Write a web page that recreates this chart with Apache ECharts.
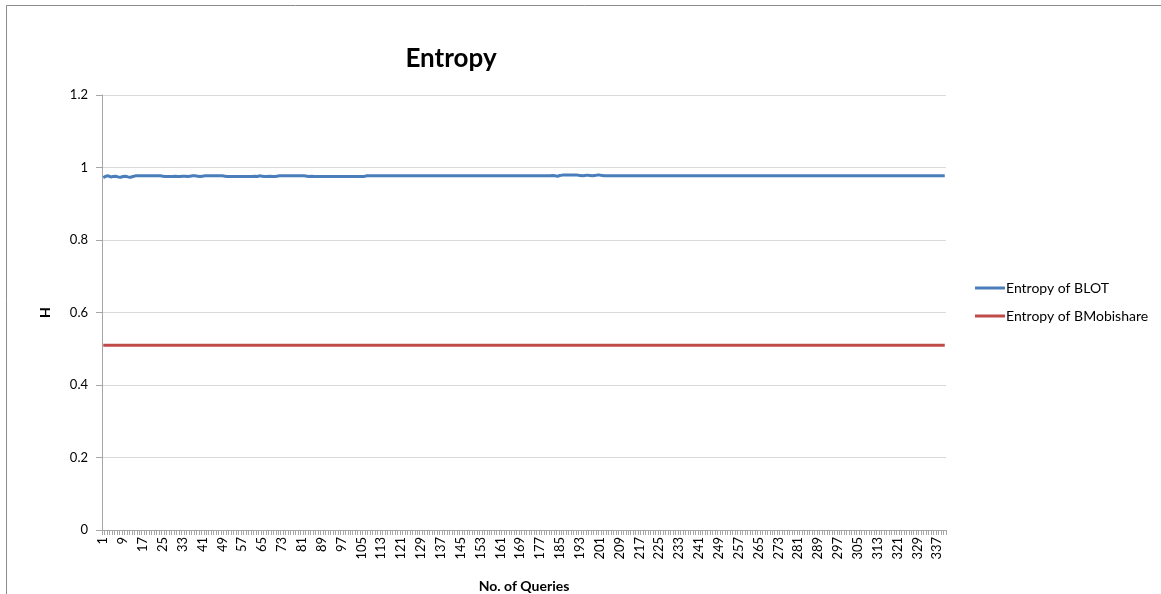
<!DOCTYPE html>
<html>
<head>
<meta charset="utf-8">
<script src="https://cdn.jsdelivr.net/npm/echarts@6/dist/echarts.min.js"></script>
<style>
html,body{margin:0;padding:0;background:#fff;}
#c{width:1161px;height:594px;}
</style>
</head>
<body>
<div id="c"></div>
<script>
var categories = [];
for (var i = 1; i <= 340; i++) categories.push(String(i));

var yTicks = [0, 0.2, 0.4, 0.6, 0.8, 1, 1.2];

var blot = [
0.972,0.976,0.977,0.974,0.975,0.976,0.974,0.973,0.975,0.976,
0.974,0.973,0.975,0.977,0.977,0.977,0.977,0.977,0.977,0.977,
0.977,0.977,0.977,0.977,0.976,0.975,0.975,0.975,0.975,0.976,
0.975,0.975,0.976,0.976,0.975,0.976,0.977,0.977,0.976,0.975,
0.976,0.977,0.977,0.977,0.977,0.977,0.977,0.977,0.977,0.976,
0.975,0.975,0.975,0.975,0.975,0.975,0.975,0.975,0.975,0.975,
0.975,0.976,0.975,0.977,0.976,0.975,0.975,0.976,0.975,0.975,
0.976,0.977,0.977,0.977,0.977,0.977,0.977,0.977,0.977,0.977,
0.977,0.977,0.976,0.975,0.976,0.975,0.975,0.975,0.975,0.975,
0.975,0.975,0.975,0.975,0.975,0.975,0.975,0.975,0.975,0.975,
0.975,0.975,0.975,0.975,0.975,0.975,0.977,0.977,0.977,0.977,
0.977,0.977,0.977,0.977,0.977,0.977,0.977,0.977,0.977,0.977,
0.977,0.977,0.977,0.977,0.977,0.977,0.977,0.977,0.977,0.977,
0.977,0.977,0.977,0.977,0.977,0.977,0.977,0.977,0.977,0.977,
0.977,0.977,0.977,0.977,0.977,0.977,0.977,0.977,0.977,0.977,
0.977,0.977,0.977,0.977,0.977,0.977,0.977,0.977,0.977,0.977,
0.977,0.977,0.977,0.977,0.977,0.977,0.977,0.977,0.977,0.977,
0.977,0.977,0.977,0.977,0.977,0.977,0.977,0.977,0.977,0.977,
0.977,0.978,0.977,0.976,0.978,0.979,0.979,0.979,0.979,0.979,
0.979,0.979,0.978,0.977,0.978,0.979,0.978,0.977,0.978,0.979,
0.979,0.978,0.977,0.977,0.977,0.977,0.977,0.977,0.977,0.977,
0.977,0.977,0.977,0.977,0.977,0.977,0.977,0.977,0.977,0.977,
0.977,0.977,0.977,0.977,0.977,0.977,0.977,0.977,0.977,0.977,
0.977,0.977,0.977,0.977,0.977,0.977,0.977,0.977,0.977,0.977,
0.977,0.977,0.977,0.977,0.977,0.977,0.977,0.977,0.977,0.977,
0.977,0.977,0.977,0.977,0.977,0.977,0.977,0.977,0.977,0.977,
0.977,0.977,0.977,0.977,0.977,0.977,0.977,0.977,0.977,0.977,
0.977,0.977,0.977,0.977,0.977,0.977,0.977,0.977,0.977,0.977,
0.977,0.977,0.977,0.977,0.977,0.977,0.977,0.977,0.977,0.977,
0.977,0.977,0.977,0.977,0.977,0.977,0.977,0.977,0.977,0.977,
0.977,0.977,0.977,0.977,0.977,0.977,0.977,0.977,0.977,0.977,
0.977,0.977,0.977,0.977,0.977,0.977,0.977,0.977,0.977,0.977,
0.977,0.977,0.977,0.977,0.977,0.977,0.977,0.977,0.977,0.977,
0.977,0.977,0.977,0.977,0.977,0.977,0.977,0.977,0.977,0.977
];

var bmobishare = [
0.51,0.51,0.51,0.51,0.51,0.51,0.51,0.51,0.51,0.51,
0.51,0.51,0.51,0.51,0.51,0.51,0.51,0.51,0.51,0.51,
0.51,0.51,0.51,0.51,0.51,0.51,0.51,0.51,0.51,0.51,
0.51,0.51,0.51,0.51,0.51,0.51,0.51,0.51,0.51,0.51,
0.51,0.51,0.51,0.51,0.51,0.51,0.51,0.51,0.51,0.51,
0.51,0.51,0.51,0.51,0.51,0.51,0.51,0.51,0.51,0.51,
0.51,0.51,0.51,0.51,0.51,0.51,0.51,0.51,0.51,0.51,
0.51,0.51,0.51,0.51,0.51,0.51,0.51,0.51,0.51,0.51,
0.51,0.51,0.51,0.51,0.51,0.51,0.51,0.51,0.51,0.51,
0.51,0.51,0.51,0.51,0.51,0.51,0.51,0.51,0.51,0.51,
0.51,0.51,0.51,0.51,0.51,0.51,0.51,0.51,0.51,0.51,
0.51,0.51,0.51,0.51,0.51,0.51,0.51,0.51,0.51,0.51,
0.51,0.51,0.51,0.51,0.51,0.51,0.51,0.51,0.51,0.51,
0.51,0.51,0.51,0.51,0.51,0.51,0.51,0.51,0.51,0.51,
0.51,0.51,0.51,0.51,0.51,0.51,0.51,0.51,0.51,0.51,
0.51,0.51,0.51,0.51,0.51,0.51,0.51,0.51,0.51,0.51,
0.51,0.51,0.51,0.51,0.51,0.51,0.51,0.51,0.51,0.51,
0.51,0.51,0.51,0.51,0.51,0.51,0.51,0.51,0.51,0.51,
0.51,0.51,0.51,0.51,0.51,0.51,0.51,0.51,0.51,0.51,
0.51,0.51,0.51,0.51,0.51,0.51,0.51,0.51,0.51,0.51,
0.51,0.51,0.51,0.51,0.51,0.51,0.51,0.51,0.51,0.51,
0.51,0.51,0.51,0.51,0.51,0.51,0.51,0.51,0.51,0.51,
0.51,0.51,0.51,0.51,0.51,0.51,0.51,0.51,0.51,0.51,
0.51,0.51,0.51,0.51,0.51,0.51,0.51,0.51,0.51,0.51,
0.51,0.51,0.51,0.51,0.51,0.51,0.51,0.51,0.51,0.51,
0.51,0.51,0.51,0.51,0.51,0.51,0.51,0.51,0.51,0.51,
0.51,0.51,0.51,0.51,0.51,0.51,0.51,0.51,0.51,0.51,
0.51,0.51,0.51,0.51,0.51,0.51,0.51,0.51,0.51,0.51,
0.51,0.51,0.51,0.51,0.51,0.51,0.51,0.51,0.51,0.51,
0.51,0.51,0.51,0.51,0.51,0.51,0.51,0.51,0.51,0.51,
0.51,0.51,0.51,0.51,0.51,0.51,0.51,0.51,0.51,0.51,
0.51,0.51,0.51,0.51,0.51,0.51,0.51,0.51,0.51,0.51,
0.51,0.51,0.51,0.51,0.51,0.51,0.51,0.51,0.51,0.51,
0.51,0.51,0.51,0.51,0.51,0.51,0.51,0.51,0.51,0.51
];

var seriesNames = ['Entropy of BLOT', 'Entropy of BMobishare'];
var FONT = 'Lato, "Open Sans", sans-serif';

var chart = echarts.init(document.getElementById('c'), null, {renderer: 'canvas'});
chart.setOption({
  animation: false,
  backgroundColor: '#ffffff',
  graphic: [{
    type: 'rect',
    shape: {x: 6.5, y: 5.5, width: 1160, height: 600},
    style: {fill: 'none', stroke: '#8c8c8c', lineWidth: 1},
    silent: true,
    z: -1
  }],
  title: {
    text: 'Entropy',
    left: 446,
    top: 41,
    textAlign: 'center',
    textStyle: {fontFamily: FONT, fontSize: 26, fontWeight: 'bold', color: '#000'}
  },
  legend: {
    orient: 'vertical',
    left: 970,
    top: 276,
    itemWidth: 30,
    itemHeight: 3,
    itemGap: 14,
    icon: 'rect',
    data: seriesNames,
    textStyle: {fontFamily: FONT, fontSize: 14, color: '#000', padding: [0, 0, 0, -4]}
  },
  grid: {left: 102, right: 215, top: 95, bottom: 64, containLabel: false, outerBoundsMode: 'none'},
  xAxis: {
    type: 'category',
    data: categories,
    boundaryGap: true,
    name: 'No. of Queries',
    nameLocation: 'middle',
    nameGap: 49,
    nameTextStyle: {fontFamily: FONT, fontSize: 14, fontWeight: 'bold', color: '#000'},
    axisLine: {lineStyle: {color: '#a6a6a6', width: 1}},
    axisTick: {show: true, interval: 0, length: 5, lineStyle: {color: '#a6a6a6'}},
    axisLabel: {interval: 7, rotate: 90, fontFamily: FONT, fontSize: 13, color: '#000', margin: 7},
    splitLine: {show: false}
  },
  yAxis: {
    type: 'value',
    min: 0,
    max: 1.2,
    interval: 0.2,
    name: 'H',
    nameLocation: 'middle',
    nameRotate: 90,
    nameGap: 50,
    nameTextStyle: {fontFamily: FONT, fontSize: 14, fontWeight: 'bold', color: '#000'},
    axisLine: {show: true, lineStyle: {color: '#a6a6a6', width: 1}},
    axisTick: {show: true, length: 6, lineStyle: {color: '#a6a6a6'}},
    axisLabel: {fontFamily: FONT, fontSize: 13, color: '#000', margin: 14,
      formatter: function (v) { return String(Math.round(v * 10) / 10); }},
    splitLine: {show: true, lineStyle: {color: '#d9d9d9', width: 1}}
  },
  series: [
    {
      name: seriesNames[0],
      type: 'line',
      data: blot,
      showSymbol: false,
      symbol: 'none',
      lineStyle: {color: '#4a7ebb', width: 3},
      itemStyle: {color: '#4a7ebb'}
    },
    {
      name: seriesNames[1],
      type: 'line',
      data: bmobishare,
      showSymbol: false,
      symbol: 'none',
      lineStyle: {color: '#be4b48', width: 3},
      itemStyle: {color: '#be4b48'}
    }
  ]
});
</script>
</body>
</html>
